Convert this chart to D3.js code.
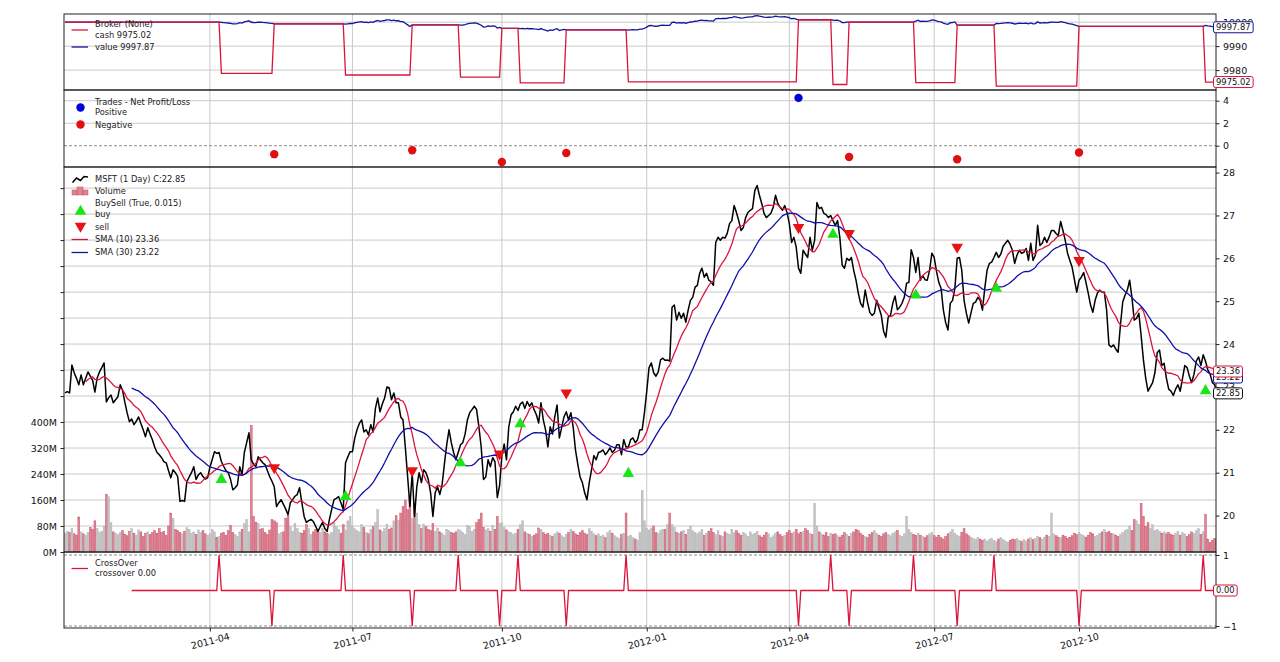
<!DOCTYPE html>
<html>
<head>
<meta charset="utf-8">
<script src="https://cdn.jsdelivr.net/npm/d3@7"></script>
<style>
  body { margin: 0; background: #fff; }
  svg { display: block; }
</style>
</head>
<body>
<svg id="chart" width="1280" height="662"></svg>
<script>
// MSFT daily closes 2011-01-03 .. 2012-12-31
const closes = [
  22.86, 22.89, 22.86, 23.51, 23.33, 23.2, 23.05, 23.28, 23.05, 23.2,
  23.35, 23.25, 23.16, 22.88, 23.21, 23.35, 23.45, 23.56, 22.65, 22.75,
  22.81, 22.63, 22.70, 22.77, 23.05, 22.93, 22.65, 22.40, 22.19, 22.25,
  22.12, 22.2, 22.30, 22.15, 22.00, 21.84, 22.05, 21.9, 21.77, 21.6,
  21.47, 21.42, 21.35, 21.26, 21.23, 21.05, 20.88, 21.07, 21.0, 20.91,
  20.33, 20.35, 20.33, 20.79, 20.9, 21.00, 21.14, 20.84, 20.95, 21.00,
  20.91, 20.85, 20.88, 21.12, 21.3, 21.49, 21.45, 21.47, 21.26, 21.15,
  21.05, 21.00, 20.84, 20.60, 20.65, 20.72, 21.14, 20.95, 21.47, 21.7,
  21.93, 21.30, 21.2, 21.14, 21.37, 21.3, 21.23, 21.19, 21.05, 20.91,
  20.8, 20.67, 20.21, 20.3, 20.37, 20.26, 20.15, 20.02, 20.30, 20.37,
  20.45, 20.49, 20.65, 20.30, 19.98, 19.84, 19.88, 19.91, 19.86, 19.75,
  19.63, 19.74, 19.84, 19.7, 19.63, 19.91, 20.15, 20.37, 20.4, 20.44,
  20.3, 20.14, 21.23, 21.37, 21.49, 21.49, 21.8, 22.00, 22.15, 22.23,
  21.95, 22.0, 21.88, 22.12, 21.95, 22.5, 22.74, 22.42, 22.6, 22.74,
  23.0, 22.98, 22.70, 22.86, 22.63, 22.63, 22.3, 22.23, 21.6, 20.91,
  20.21, 21.0, 19.98, 20.67, 21.0, 20.77, 21.07, 21.0, 20.84, 20.53,
  19.98, 20.53, 20.67, 20.49, 20.72, 21.2, 21.65, 22.0, 21.7, 21.47,
  21.3, 21.47, 21.65, 21.7, 21.9, 22.23, 22.4, 22.47, 22.55, 22.47,
  22.07, 21.6, 20.84, 20.9, 21.3, 21.14, 21.35, 21.25, 20.42, 20.7,
  21.4, 21.67, 21.3, 22.07, 22.35, 22.42, 22.55, 22.45, 22.6, 22.65,
  22.50, 22.66, 22.55, 22.63, 22.47, 22.35, 22.16, 22.63, 22.23, 22.0,
  21.6, 22.07, 21.9, 22.3, 22.58, 21.81, 22.05, 22.3, 22.42, 22.23,
  22.4, 22.07, 21.53, 21.2, 20.9, 20.77, 20.53, 20.37, 20.77, 21.07,
  21.4, 21.3, 21.47, 21.49, 21.53, 21.42, 21.49, 21.58, 21.47, 21.53,
  21.65, 21.65, 21.42, 21.77, 21.6, 21.6, 21.77, 21.81, 21.7, 21.77,
  22.0, 22.0, 22.4, 22.9, 23.45, 23.56, 23.33, 23.25, 23.35, 23.63,
  23.67, 23.62, 23.63, 23.6, 24.86, 24.91, 24.56, 24.74, 24.60, 24.72,
  24.51, 24.79, 25.02, 25.09, 25.33, 25.37, 25.65, 25.77, 25.56, 25.65,
  25.49, 25.45, 25.37, 26.37, 26.49, 26.42, 26.49, 26.47, 26.58, 26.81,
  26.88, 27.23, 27.07, 26.88, 26.65, 26.72, 26.95, 27.07, 27.12, 27.16,
  27.58, 27.70, 27.47, 27.28, 27.05, 26.95, 27.0, 27.05, 27.19, 27.47,
  27.28, 27.19, 27.12, 27.23, 27.07, 26.81, 26.37, 26.49, 26.26, 25.77,
  25.65, 26.19, 26.1, 26.02, 26.49, 26.19, 26.42, 27.3, 27.16, 27.19,
  27.05, 27.02, 26.95, 27.0, 26.88, 26.77, 26.88, 26.47, 25.84, 25.77,
  26.0, 25.95, 26.02, 25.72, 25.49, 25.19, 24.95, 24.86, 25.26, 24.98,
  24.74, 24.67, 24.72, 25.02, 24.84, 24.67, 24.3, 24.16, 24.63, 24.67,
  24.95, 25.12, 24.8, 24.86, 24.95, 25.09, 25.42, 25.44, 26.2, 26.02,
  25.67, 26.02, 25.49, 25.60, 25.5, 25.49, 25.72, 26.12, 26.02, 25.7,
  25.44, 25.3, 24.79, 24.5, 24.33, 24.95, 25.02, 25.3, 26.0, 26.02,
  25.72, 25.02, 24.72, 24.49, 24.72, 24.95, 24.98, 25.09, 25.02, 24.79,
  25.3, 25.72, 25.88, 25.91, 26.02, 26.14, 26.02, 26.1, 26.28, 26.35,
  26.42, 26.33, 26.19, 25.88, 26.07, 26.19, 26.12, 26.14, 26.23, 25.95,
  26.35, 25.95, 26.07, 26.77, 26.30, 26.35, 26.49, 26.37, 26.5, 26.65,
  26.65, 26.58, 26.53, 26.86, 26.65, 26.42, 26.12, 25.95, 25.79, 25.5,
  25.21, 25.49, 25.56, 25.67, 25.44, 25.19, 24.91, 24.74, 25.02, 25.19,
  25.26, 25.21, 25.21, 24.79, 23.98, 23.93, 23.98, 23.88, 23.81, 24.44,
  24.98, 25.14, 25.26, 25.49, 25.09, 24.56, 24.6, 24.72, 24.2, 23.63,
  23.2, 22.9, 23.0, 23.1, 23.33, 23.8, 23.86, 23.5, 23.55, 23.2,
  22.95, 22.9, 22.8, 22.95, 23.05, 22.9, 23.2, 23.5, 23.45, 23.25,
  23.1, 23.3, 23.6, 23.7, 23.5, 23.75, 23.6, 23.4, 23.3, 23.1,
  23.05, 22.85
];

// daily volume, millions
const volumes = [
  58, 64, 60, 72, 56, 52, 108, 62, 56, 52, 60, 76, 70, 96, 72, 60, 64, 80, 178, 170,
  90, 62, 58, 54, 60, 66, 55, 50, 64, 72, 58, 52, 68, 62, 48, 58, 62, 54, 60,
  66, 58, 72, 60, 64, 52, 80, 120, 104, 70, 66, 60, 56, 64, 75, 70, 58, 62, 54, 68, 60, 66, 56,
  52, 56, 70, 62, 44, 48, 58, 60, 52, 66, 82, 60, 54, 48, 62, 70, 88, 100, 62, 390,
  110, 92, 88, 70, 72, 60, 54, 68, 100, 96, 90, 56, 60, 62, 104, 112, 78, 64, 88, 72,
  60, 58, 66, 84, 72, 54, 62, 70, 66, 60, 74, 62, 58, 54, 60, 90, 78, 70, 58, 84, 68, 96, 110, 80,
  72, 66, 62, 84, 76, 60, 56, 70, 78, 90, 130, 68, 64, 72, 86, 70, 74, 96, 112, 98,
  120, 140, 160, 130, 175, 104, 150, 120, 84, 72, 86, 78, 70, 66, 88, 64, 74, 62, 58, 52, 70, 66, 60,
  58, 62, 70, 66, 60, 54, 82, 78, 64, 70, 90, 100, 120, 76, 68, 72, 64, 82, 70, 110, 88,
  90, 76, 68, 62, 60, 54, 58, 70, 84, 96, 62, 58, 54, 48, 52, 56, 74, 70, 60, 54, 58,
  52, 48, 56, 62, 58, 50, 46, 54, 60, 70, 64, 56, 52, 60, 66, 58, 54, 72, 64, 56, 50,
  56, 48, 52, 44, 60, 66, 58, 50, 46, 42, 54, 58, 120, 48, 52, 44, 40, 36, 60, 190, 96,
  72, 68, 74, 80, 60, 58, 66, 70, 70, 84, 120, 84, 76, 60, 58, 62, 66, 54, 70, 80, 66,
  60, 56, 62, 70, 52, 58, 64, 72, 60, 54, 66, 50, 48, 62, 58, 54, 70, 60, 66, 58,
  52, 60, 56, 48, 62, 54, 58, 64, 50, 46, 52, 60, 56, 44, 50, 58, 62, 54, 48, 52, 60,
  66, 58, 62, 70, 56, 60, 64, 72, 66, 58, 54, 150, 80, 62, 56, 52, 60, 48, 58, 54,
  56, 50, 46, 52, 60, 54, 48, 58, 62, 70, 66, 58, 52, 48, 44, 54, 60, 66, 58, 52, 48, 56,
  60, 54, 50, 58, 62, 66, 52, 48, 56, 110, 70, 60, 54, 50, 58, 52, 48, 44, 50, 56, 60,
  50, 46, 52, 44, 40, 48, 56, 62, 70, 58, 52, 48, 60, 72, 56, 50, 46, 42, 38, 44, 40,
  36, 40, 34, 38, 42, 36, 32, 40, 44, 38, 34, 30, 36, 40, 38, 42, 36, 32, 38, 34, 40, 44, 38,
  42, 48, 44, 40, 46, 52, 48, 120, 56, 50, 46, 44, 52, 48, 42, 46, 50, 58, 54,
  60, 54, 50, 46, 52, 60, 56, 48, 52, 58, 62, 70, 60, 64, 58, 56, 52, 48, 54, 60, 66,
  70, 80, 66, 100, 96, 84, 150, 110, 78, 90, 72, 84, 66, 70, 64, 58, 62, 56, 60, 54, 52,
  58, 64, 52, 60, 56, 48, 54, 62, 58, 66, 72, 54, 62, 116, 40, 30, 36, 42, 38
];

// x-axis (bar index of each labelled month)
const dateTickIdx = [63, 125, 190, 253, 315, 378, 441];
const dateTickLabels = ["2011-04", "2011-07", "2011-10", "2012-01", "2012-04", "2012-07", "2012-10"];

// SMA(10)/SMA(30) crossover signal
const crossUpIdx = [67, 121, 171, 197, 244, 333, 369, 404, 495];
const crossDownIdx = [90, 151, 189, 218, 319, 341, 388, 441];

// BuySell observer markers
const buyMarkIdx = [68, 122, 172, 198, 245, 334, 370, 405, 496];
const buyMarkPrice = [20.84, 20.44, 21.23, 22.14, 20.98, 26.56, 25.14, 25.30, 22.91];
const sellMarkIdx = [91, 151, 189, 218, 319, 341, 388, 441];
const sellMarkPrice = [21.12, 21.05, 21.44, 22.86, 26.72, 26.58, 26.26, 25.95];

// trades: entry bar, fill price, exit bar, net pnl
const entryIdx = [68, 122, 172, 198, 245, 334, 370, 405, 496];
const entryPrice = [21.35, 21.3, 21.75, 22.7, 21.7, 27.0, 25.2, 25.45, 23.18];
const exitIdx = [91, 151, 190, 218, 319, 341, 388, 441];
const tradePnl = [-0.75, -0.4, -1.45, -0.65, 4.25, -1.0, -1.2, -0.6];

const startCash = 10000;

const FONT = "DejaVu Sans, sans-serif";
const CRIMSON = "crimson";
const NAVY = "#14149a";
const GRID = "#c9c9c9";

const X0 = 64, X1 = 1216;
const panels = {
  broker: { top: 14, bottom: 90 },
  trades: { top: 90, bottom: 167 },
  main: { top: 167, bottom: 552 },
  cross: { top: 552, bottom: 628 }
};

const svg = d3.select("#chart").attr("font-family", FONT);
const n = closes.length;

const x = d3.scaleLinear().domain([0, n - 1]).range([65, 1217]);
const yBroker = d3.scaleLinear().domain([9971.7, 10003.4]).range([panels.broker.bottom, panels.broker.top]);
const yTrades = d3.scaleLinear().domain([-1.89, 4.95]).range([panels.trades.bottom, panels.trades.top]);
const yPrice = d3.scaleLinear().domain([19.15, 28.13]).range([panels.main.bottom, panels.main.top]);
const yVol = d3.scaleLinear().domain([0, 1185]).range([panels.main.bottom, panels.main.top]);
const yCross = d3.scaleLinear().domain([-1.056, 1.085]).range([panels.cross.bottom, panels.cross.top]);

// ---- derived series ----
const sma = (period) => closes.map((c, i) =>
  i < period - 1 ? null : d3.mean(closes.slice(i - period + 1, i + 1)));
const sma10 = sma(10);
const sma30 = sma(30);

const crossover = closes.map((c, i) => {
  if (i < 29) return null;
  if (crossUpIdx.includes(i)) return 1;
  if (crossDownIdx.includes(i)) return -1;
  return 0;
});

const cash = [], value = [];
let flat = startCash, k = 0, holding = false;
closes.forEach((c, i) => {
  if (!holding && k < entryIdx.length && i === entryIdx[k]) {
    holding = true;
  } else if (holding && k < exitIdx.length && i === exitIdx[k]) {
    holding = false;
    flat += tradePnl[k];
    k++;
  }
  const cNow = holding ? flat - entryPrice[k] : flat;
  cash.push(cNow);
  value.push(holding ? cNow + c : cNow);
});

// ---- clip paths ----
const defs = svg.append("defs");
Object.entries(panels).forEach(([name, p]) => {
  defs.append("clipPath").attr("id", "clip-" + name)
    .append("rect")
    .attr("x", X0).attr("y", p.top)
    .attr("width", X1 - X0).attr("height", p.bottom - p.top);
});

const layer = (name) => svg.append("g").attr("clip-path", `url(#clip-${name})`);

// ---- grid ----
const grid = svg.append("g").attr("stroke", GRID).attr("stroke-width", 1);
dateTickIdx.forEach((t) => {
  grid.append("line")
    .attr("x1", x(t)).attr("x2", x(t))
    .attr("y1", panels.broker.top).attr("y2", panels.cross.bottom);
});
const hgrid = (yPos) => grid.append("line").attr("x1", X0).attr("x2", X1).attr("y1", yPos).attr("y2", yPos);
[9980, 9990, 10000].forEach((v) => hgrid(yBroker(v)));
[2, 4].forEach((v) => hgrid(yTrades(v)));
d3.range(0, 1121, 80).forEach((v) => hgrid(yVol(v)));

// dashed reference lines
const dashed = svg.append("g").attr("stroke", "#8c8c8c").attr("stroke-width", 1).attr("stroke-dasharray", "3,2");
[yTrades(0), yCross(1), yCross(-1)].forEach((yy) => {
  dashed.append("line").attr("x1", X0).attr("x2", X1).attr("y1", yy).attr("y2", yy);
});

// ---- broker panel ----
const brokerG = layer("broker");
brokerG.append("path").datum(value)
  .attr("fill", "none").attr("stroke", NAVY).attr("stroke-width", 1.3)
  .attr("d", d3.line().x((d, i) => x(i)).y((d) => yBroker(d)));
brokerG.append("path").datum(cash)
  .attr("fill", "none").attr("stroke", CRIMSON).attr("stroke-width", 1.3)
  .attr("d", d3.line().x((d, i) => x(i)).y((d) => yBroker(d)));

// ---- trades panel ----
const tradesG = layer("trades");
tradesG.selectAll("circle").data(exitIdx).enter()
  .append("circle")
  .attr("cx", (d) => x(d))
  .attr("cy", (d, i) => yTrades(tradePnl[i]))
  .attr("r", 4.2)
  .attr("fill", (d, i) => tradePnl[i] >= 0 ? "#0000dd" : "#e01010");

// ---- main panel ----
const mainG = layer("main");
mainG.selectAll("rect.vol").data(volumes).enter()
  .append("rect")
  .attr("class", "vol")
  .attr("x", (d, i) => x(i) - 0.95)
  .attr("width", 1.9)
  .attr("y", (d) => yVol(d))
  .attr("height", (d) => yVol(0) - yVol(d))
  .attr("fill", (d, i) => (i > 0 && closes[i] < closes[i - 1]) ? "#dc8595" : "#c4c4c4")
  .attr("stroke", (d, i) => (i > 0 && closes[i] < closes[i - 1]) ? "#c9435e" : "#b0b0b0")
  .attr("stroke-width", 0.4);

const priceLine = d3.line().defined((d) => d !== null).x((d, i) => x(i)).y((d) => yPrice(d));
mainG.append("path").datum(closes)
  .attr("fill", "none").attr("stroke", "#000").attr("stroke-width", 1.5)
  .attr("stroke-linejoin", "round")
  .attr("d", priceLine);
mainG.append("path").datum(sma10)
  .attr("fill", "none").attr("stroke", CRIMSON).attr("stroke-width", 1.3)
  .attr("d", priceLine);
mainG.append("path").datum(sma30)
  .attr("fill", "none").attr("stroke", "#1010a8").attr("stroke-width", 1.3)
  .attr("d", priceLine);

const tri = d3.symbol().type(d3.symbolTriangle).size(58);
mainG.selectAll("path.buy").data(buyMarkIdx).enter()
  .append("path").attr("class", "buy")
  .attr("d", tri)
  .attr("transform", (d, i) => `translate(${x(d)},${yPrice(buyMarkPrice[i])})`)
  .attr("fill", "#19e619");
mainG.selectAll("path.sell").data(sellMarkIdx).enter()
  .append("path").attr("class", "sell")
  .attr("d", tri)
  .attr("transform", (d, i) => `translate(${x(d)},${yPrice(sellMarkPrice[i])}) rotate(180)`)
  .attr("fill", "#e81414");

// ---- crossover panel ----
const crossG = layer("cross");
crossG.append("path").datum(crossover)
  .attr("fill", "none").attr("stroke", CRIMSON).attr("stroke-width", 1.3)
  .attr("d", d3.line().defined((d) => d !== null).x((d, i) => x(i)).y((d) => yCross(d)));

// ---- panel frames ----
Object.values(panels).forEach((p) => {
  svg.append("rect")
    .attr("x", X0).attr("y", p.top)
    .attr("width", X1 - X0).attr("height", p.bottom - p.top)
    .attr("fill", "none").attr("stroke", "#222").attr("stroke-width", 1);
});

// ---- axes ----
const styleAxis = (g) => {
  g.select(".domain").remove();
  g.attr("font-family", FONT).attr("font-size", 9.5);
  g.selectAll(".tick line").attr("stroke", "#222");
  g.selectAll("text").attr("fill", "#111");
};

const rightAxis = (scale, ticks, fmt) => svg.append("g")
  .attr("transform", `translate(${X1},0)`)
  .call(d3.axisRight(scale).tickValues(ticks).tickSize(3.5).tickPadding(3.5).tickFormat(fmt))
  .call(styleAxis);

rightAxis(yBroker, [9980, 9990, 10000], d3.format("d"));
rightAxis(yTrades, [0, 2, 4], d3.format("d"));
rightAxis(yPrice, d3.range(20, 29), d3.format("d"));
rightAxis(yCross, [-1, 1], d3.format("d"));

svg.append("g")
  .attr("transform", `translate(${X0},0)`)
  .call(d3.axisLeft(yVol).tickValues(d3.range(0, 1121, 80)).tickSize(3.5).tickPadding(3.5)
    .tickFormat((d) => d <= 400 ? d + "M" : ""))
  .call(styleAxis);

const xAxisG = svg.append("g")
  .attr("transform", `translate(0,${panels.cross.bottom})`)
  .call(d3.axisBottom(x).tickValues(dateTickIdx).tickSize(3.5).tickFormat(() => ""))
  .call(styleAxis);
xAxisG.selectAll(".tick").append("text")
  .attr("transform", "translate(0,13) rotate(-15)")
  .attr("text-anchor", "middle")
  .attr("dy", "0.35em")
  .attr("fill", "#111")
  .text((d, i) => dateTickLabels[i]);

// ---- last-value boxes on the right ----
const valueBox = (yPos, label, color) => {
  const g = svg.append("g").attr("transform", `translate(${X1 - 2.5},${yPos})`);
  const r = g.append("rect").attr("y", -5.5).attr("height", 11).attr("rx", 2)
    .attr("fill", "#fff").attr("stroke", color).attr("stroke-width", 1);
  const t = g.append("text").attr("x", 2.5).attr("dy", "0.35em")
    .attr("font-size", 8.4).attr("fill", "#111").text(label);
  r.attr("width", t.node().getComputedTextLength() + 5);
};
valueBox(yBroker(9997.87), "9997.87", NAVY);
valueBox(yBroker(9975.02), "9975.02", CRIMSON);
valueBox(yPrice(23.22), "23.22", "#1010a8");
valueBox(yPrice(23.36), "23.36", CRIMSON);
valueBox(yPrice(22.85), "22.85", "#111");
valueBox(yCross(0), "0.00", CRIMSON);

// ---- legends ----
const LX = 95;
const legText = (yPos, label) => svg.append("text")
  .attr("x", LX).attr("y", yPos).attr("dy", "0.35em")
  .attr("font-size", 8.3).attr("fill", "#222").text(label);
const legLine = (yPos, color) => svg.append("line")
  .attr("x1", 71.5).attr("x2", 88).attr("y1", yPos).attr("y2", yPos)
  .attr("stroke", color).attr("stroke-width", 1.3);

// broker
legText(24.3, "Broker (None)");
legText(34.8, "cash 9975.02");
legLine(30, CRIMSON);
legText(46.8, "value 9997.87");
legLine(47, NAVY);

// trades
legText(101.7, "Trades - Net Profit/Loss");
legText(112, "Positive");
svg.append("circle").attr("cx", 80.5).attr("cy", 107.5).attr("r", 4.2).attr("fill", "#0000dd");
legText(125, "Negative");
svg.append("circle").attr("cx", 80.5).attr("cy", 124.5).attr("r", 4.2).attr("fill", "#e01010");

// main
legText(179, "MSFT (1 Day) C:22.85");
svg.append("path")
  .attr("d", d3.line()([[72.5, 182.5], [76.5, 178], [80.5, 180.5], [84, 176.5], [88, 177]]))
  .attr("fill", "none").attr("stroke", "#000").attr("stroke-width", 1.5);
legText(191, "Volume");
[[72, 190, 5, 5], [77, 187, 6, 8], [83, 190, 5, 5]].forEach(([rx, ry, rw, rh]) => {
  svg.append("rect").attr("x", rx).attr("y", ry).attr("width", rw).attr("height", rh)
    .attr("fill", "#dc8595").attr("stroke", "#c9435e").attr("stroke-width", 0.5);
});
legText(203.5, "BuySell (True, 0.015)");
legText(214, "buy");
svg.append("path").attr("d", tri).attr("transform", "translate(80.5,211.5)").attr("fill", "#19e619");
legText(226.7, "sell");
svg.append("path").attr("d", tri).attr("transform", "translate(80.5,226) rotate(180)").attr("fill", "#e81414");
legText(239.5, "SMA (10) 23.36");
legLine(239.5, CRIMSON);
legText(252.5, "SMA (30) 23.22");
legLine(252.5, "#1010a8");

// crossover
legText(562.7, "CrossOver");
legText(573.3, "crossover 0.00");
legLine(568.5, CRIMSON);
</script>
</body>
</html>
